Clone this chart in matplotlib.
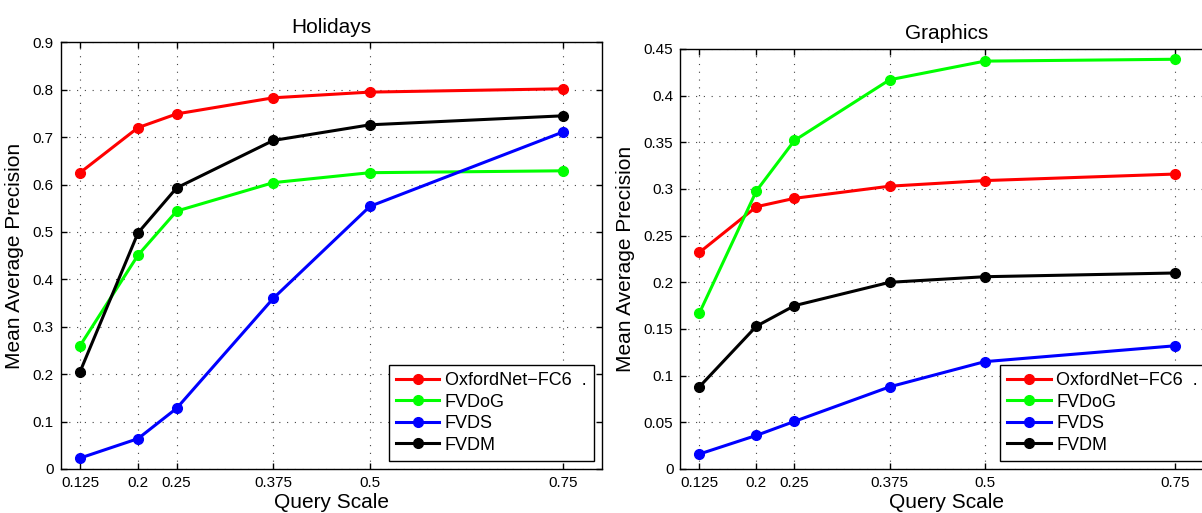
import numpy as np
import matplotlib
matplotlib.use("Agg")
import matplotlib.pyplot as plt

plt.rcParams['font.family'] = ['Liberation Sans', 'DejaVu Sans']

# query scales shared by both datasets
scales = [0.125, 0.2, 0.25, 0.375, 0.5, 0.75]
scale_labels = ['0.125', '0.2', '0.25', '0.375', '0.5', '0.75']

methods = ['OxfordNet\u2212FC6  .', 'FVDoG', 'FVDS', 'FVDM']
colors = ['#ff0000', '#00ff00', '#0000ff', '#000000']

# mAP on Holidays
holidays_oxford = [0.625, 0.720, 0.749, 0.783, 0.795, 0.802]
holidays_fvdog = [0.260, 0.451, 0.544, 0.604, 0.625, 0.629]
holidays_fvds = [0.023, 0.064, 0.128, 0.360, 0.554, 0.711]
holidays_fvdm = [0.205, 0.498, 0.593, 0.693, 0.726, 0.745]

# mAP on Graphics
graphics_oxford = [0.232, 0.281, 0.290, 0.303, 0.309, 0.316]
graphics_fvdog = [0.167, 0.298, 0.352, 0.417, 0.437, 0.439]
graphics_fvds = [0.016, 0.036, 0.051, 0.088, 0.115, 0.132]
graphics_fvdm = [0.088, 0.153, 0.175, 0.200, 0.206, 0.210]

holidays_yticks = [0, 0.1, 0.2, 0.3, 0.4, 0.5, 0.6, 0.7, 0.8, 0.9]
holidays_ylabels = ['0', '0.1', '0.2', '0.3', '0.4', '0.5', '0.6', '0.7', '0.8', '0.9']
graphics_yticks = [0, 0.05, 0.1, 0.15, 0.2, 0.25, 0.3, 0.35, 0.4, 0.45]
graphics_ylabels = ['0', '0.05', '0.1', '0.15', '0.2', '0.25', '0.3', '0.35', '0.4', '0.45']

fig = plt.figure(figsize=(12.02, 5.13), dpi=100)
ax1 = fig.add_axes([0.0505, 0.0858, 0.4502, 0.8317])
ax2 = fig.add_axes([0.566, 0.0858, 0.4432, 0.8187])


def draw(ax, series, title, yticks, ylabels):
    for vals, c, name in zip(series, colors, methods):
        ax.plot(scales, vals, '-o', color=c, lw=2.2, ms=7, label=name, zorder=3)
    ax.set_xlim(0.1, 0.8)
    ax.set_ylim(yticks[0], yticks[-1])
    ax.set_xticks(scales)
    ax.set_xticklabels(scale_labels)
    ax.set_yticks(yticks)
    ax.set_yticklabels(ylabels)
    ax.tick_params(direction='in', top=True, right=True, length=4, width=1,
                   labelsize=11, pad=5)
    ax.grid(True, color='#444444', linestyle=(0, (1, 6)), lw=0.8)
    for s in ax.spines.values():
        s.set_linewidth(1.0)
    ax.set_title(title, fontsize=15, pad=7)
    ax.set_xlabel('Query Scale', fontsize=15, labelpad=2)
    ax.set_ylabel('Mean Average Precision', fontsize=15, labelpad=6)
    leg = ax.legend(loc='lower right', fontsize=13, fancybox=False, framealpha=1,
                    edgecolor='black', borderaxespad=0.45, handlelength=2.4,
                    handletextpad=0.3, labelspacing=0.25, borderpad=0.4)
    leg.get_frame().set_linewidth(1.0)


draw(ax1, [holidays_oxford, holidays_fvdog, holidays_fvds, holidays_fvdm],
     'Holidays', holidays_yticks, holidays_ylabels)
draw(ax2, [graphics_oxford, graphics_fvdog, graphics_fvds, graphics_fvdm],
     'Graphics', graphics_yticks, graphics_ylabels)

fig.savefig('out.png', dpi=100)
